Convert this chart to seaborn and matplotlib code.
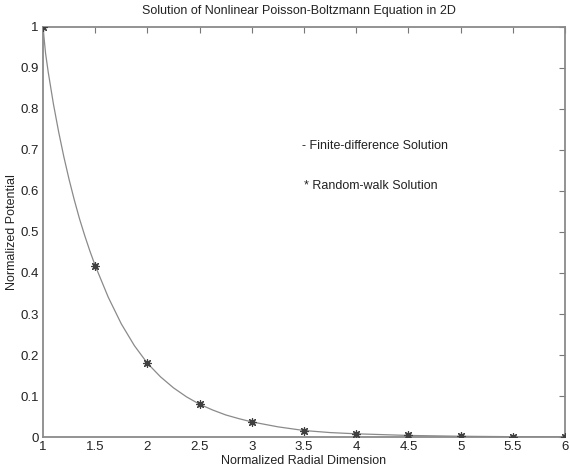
import seaborn as sns
import matplotlib.pyplot as plt
import pandas as pd

# 有限差分解（曲线）
fd_x = [1.0, 1.025, 1.05, 1.1, 1.15, 1.2, 1.25, 1.3, 1.35, 1.4, 1.45,
        1.5, 1.625, 1.75, 1.875, 2.0, 2.125, 2.25, 2.375, 2.5, 2.625, 2.75, 2.875,
        3.0, 3.25, 3.5, 3.75, 4.0, 4.5, 5.0, 5.5, 6.0]
fd_y = [1.0, 0.935, 0.89, 0.812, 0.744, 0.683, 0.628, 0.578, 0.532, 0.491, 0.453,
        0.418, 0.341, 0.276, 0.223, 0.18, 0.147, 0.12, 0.098, 0.08, 0.066, 0.054, 0.045,
        0.037, 0.025, 0.016, 0.011, 0.008, 0.004, 0.002, 0.001, 0.0005]

# 随机游走解（星号）
rw_x = [1.0, 1.5, 2.0, 2.5, 3.0, 3.5, 4.0, 4.5, 5.0, 5.5, 6.0]
rw_y = [1.0, 0.418, 0.18, 0.08, 0.037, 0.016, 0.008, 0.004, 0.002, 0.001, 0.0005]

x_ticks = [1, 1.5, 2, 2.5, 3, 3.5, 4, 4.5, 5, 5.5, 6]
y_ticks = [0, 0.1, 0.2, 0.3, 0.4, 0.5, 0.6, 0.7, 0.8, 0.9, 1]

sns.set_style("white")
plt.rcParams['font.family'] = ['Liberation Sans', 'DejaVu Sans']

fd = pd.DataFrame({'x': fd_x, 'y': fd_y})
rw = pd.DataFrame({'x': rw_x, 'y': rw_y})

fig = plt.figure(figsize=(5.7, 4.71), dpi=100)
ax = fig.add_axes([0.0754, 0.072, 0.916, 0.871])

sns.lineplot(data=fd, x='x', y='y', ax=ax, color='#8a8a8a', linewidth=0.9)
sns.scatterplot(data=rw, x='x', y='y', ax=ax, marker=(8, 2, 0), s=30,
                color='#404040', linewidth=0.9, zorder=3)

ax.set_xlim(1, 6)
ax.set_ylim(0, 1)
ax.set_xticks(x_ticks)
ax.set_xticklabels([f"{t:g}" for t in x_ticks])
ax.set_yticks(y_ticks)
ax.set_yticklabels([f"{t:g}" for t in y_ticks])
ax.tick_params(direction='in', length=4, width=0.8, color='#777777',
               top=True, right=True, labelsize=9.5, pad=3, colors='#222222')
for s in ax.spines.values():
    s.set_color('#8a8a8a')
    s.set_linewidth(1.3)
    s.set_visible(True)

ax.set_title("Solution of Nonlinear Poisson-Boltzmann Equation in 2D",
             fontsize=9, color='#222222', pad=9, x=0.49)
ax.set_xlabel("Normalized Radial Dimension", fontsize=9, color='#222222', labelpad=1)
ax.set_ylabel("Normalized Potential", fontsize=9, color='#222222', labelpad=2)

ax.text(3.48, 0.71, "- Finite-difference Solution", fontsize=9, color='#222222', va='center')
ax.text(3.5, 0.612, "* Random-walk Solution", fontsize=9, color='#222222', va='center')

fig.savefig("out.png", dpi=100)
